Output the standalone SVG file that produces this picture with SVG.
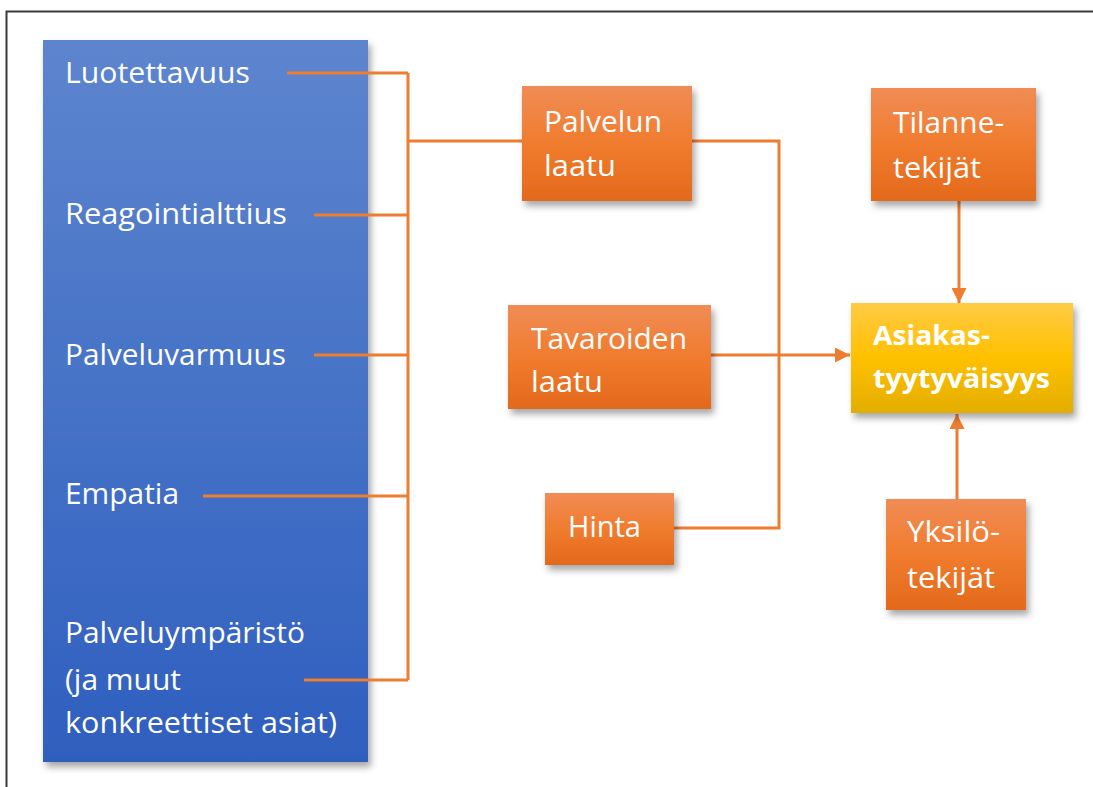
<svg xmlns="http://www.w3.org/2000/svg" width="1093" height="787" viewBox="0 0 1093 787">
<style>
.t{font-family:"Open Sans","Noto Sans","Liberation Sans",sans-serif;font-size:29px;fill:#ffffff;}
.b{font-family:"Open Sans","Noto Sans","Liberation Sans",sans-serif;font-size:26px;font-weight:bold;fill:#ffffff;}
.c{fill:none;stroke:#ED7D31;stroke-width:3;}
.ob{fill:url(#og);filter:url(#sh);}
</style>
<defs>
<linearGradient id="bg" x1="0" y1="0" x2="0" y2="1">
<stop offset="0" stop-color="#5D85CE"/>
<stop offset="1" stop-color="#2F5FBF"/>
</linearGradient>
<linearGradient id="og" x1="0" y1="0" x2="0" y2="1">
<stop offset="0" stop-color="#F08C55"/>
<stop offset="0.5" stop-color="#F07C2E"/>
<stop offset="1" stop-color="#E3691B"/>
</linearGradient>
<linearGradient id="yg" x1="0" y1="0" x2="0" y2="1">
<stop offset="0" stop-color="#FFCB45"/>
<stop offset="0.5" stop-color="#FFC000"/>
<stop offset="1" stop-color="#E3AE00"/>
</linearGradient>
<filter id="sh" x="-10%" y="-10%" width="125%" height="130%">
<feDropShadow dx="3" dy="5" stdDeviation="3.5" flood-color="#000" flood-opacity="0.35"/>
</filter>
<marker id="ah" viewBox="0 0 10 10" refX="10" refY="5" markerWidth="5" markerHeight="5" orient="auto" markerUnits="strokeWidth">
<path d="M0,0 L10,5 L0,10 z" fill="#ED7D31"/>
</marker>
</defs>
<rect width="1093" height="787" fill="#ffffff"/>
<rect x="6.5" y="11.5" width="1100" height="800" fill="none" stroke="#3a3a3a" stroke-width="2"/>

<g id="factors">
<rect x="43" y="40" width="325" height="722" fill="url(#bg)" filter="url(#sh)"/>
<text class="t" x="65" y="83" textLength="185" lengthAdjust="spacingAndGlyphs">Luotettavuus</text>
<text class="t" x="65" y="224" textLength="222" lengthAdjust="spacingAndGlyphs">Reagointialttius</text>
<text class="t" x="65" y="365" textLength="221" lengthAdjust="spacingAndGlyphs">Palveluvarmuus</text>
<text class="t" x="65" y="504" textLength="114" lengthAdjust="spacingAndGlyphs">Empatia</text>
<text class="t" x="65" y="643" textLength="240" lengthAdjust="spacingAndGlyphs">Palveluympäristö</text>
<text class="t" x="65" y="690" textLength="116" lengthAdjust="spacingAndGlyphs">(ja muut</text>
<text class="t" x="65" y="733" textLength="272" lengthAdjust="spacingAndGlyphs">konkreettiset asiat)</text>
</g>

<g id="connectors">
<path class="c" d="M287,73 H408 M314,215 H408 M314,355 H408 M203,496 H408 M304,680 H408 M408,73 V680 M408,141 H522"/>
<path class="c" d="M692,141 H779 V528 H674"/>
<path class="c" d="M711,355 H850" marker-end="url(#ah)"/>
<path class="c" d="M959,201 V303" marker-end="url(#ah)"/>
<path class="c" d="M957,499 V414" marker-end="url(#ah)"/>
</g>

<g id="palvelun-laatu">
<rect class="ob" x="522" y="86" width="170" height="115"/>
<text class="t" x="544" y="132" textLength="118" lengthAdjust="spacingAndGlyphs">Palvelun</text>
<text class="t" x="544" y="176" textLength="72" lengthAdjust="spacingAndGlyphs">laatu</text>
</g>

<g id="tavaroiden-laatu">
<rect class="ob" x="508" y="305" width="203" height="104"/>
<text class="t" x="531" y="349" textLength="156" lengthAdjust="spacingAndGlyphs">Tavaroiden</text>
<text class="t" x="531" y="392" textLength="72" lengthAdjust="spacingAndGlyphs">laatu</text>
</g>

<g id="hinta">
<rect class="ob" x="545" y="493" width="129" height="72"/>
<text class="t" x="568" y="537" textLength="73" lengthAdjust="spacingAndGlyphs">Hinta</text>
</g>

<g id="tilannetekijat">
<rect class="ob" x="871" y="88" width="165" height="113"/>
<text class="t" x="893" y="133" textLength="111" lengthAdjust="spacingAndGlyphs">Tilanne-</text>
<text class="t" x="893" y="178" textLength="88" lengthAdjust="spacingAndGlyphs">tekijät</text>
</g>

<g id="asiakastyytyvaisyys">
<rect x="851" y="303" width="222" height="110" fill="url(#yg)" filter="url(#sh)"/>
<text class="b" x="873" y="345" textLength="117" lengthAdjust="spacingAndGlyphs">Asiakas-</text>
<text class="b" x="873" y="388" textLength="177" lengthAdjust="spacingAndGlyphs">tyytyväisyys</text>
</g>

<g id="yksilotekijat">
<rect class="ob" x="886" y="499" width="140" height="111"/>
<text class="t" x="907" y="542" textLength="93" lengthAdjust="spacingAndGlyphs">Yksilö-</text>
<text class="t" x="907" y="588" textLength="88" lengthAdjust="spacingAndGlyphs">tekijät</text>
</g>
</svg>
